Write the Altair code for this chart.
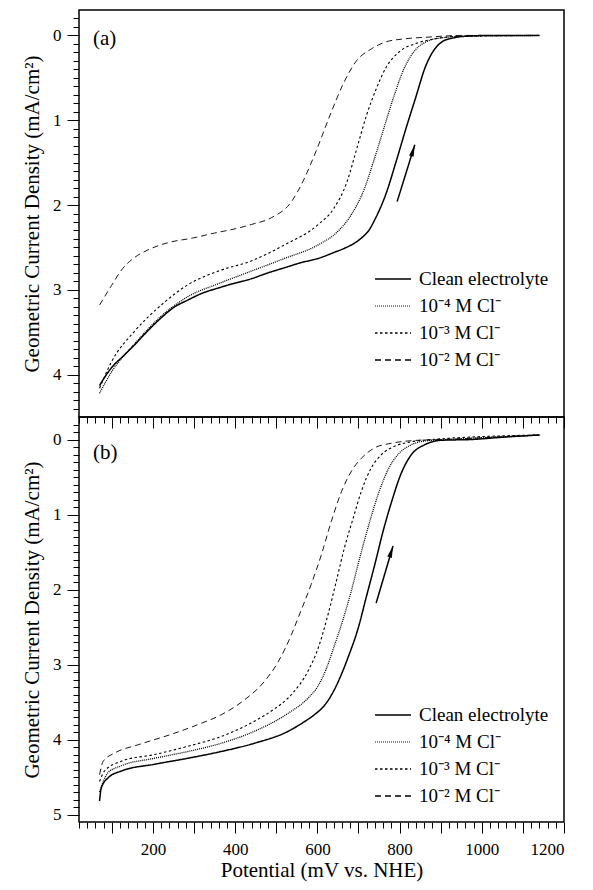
import altair as alt
import pandas as pd

FONT = "Liberation Serif"

NAMES = ["Clean electrolyte", "10⁻⁴ M Cl⁻", "10⁻³ M Cl⁻", "10⁻² M Cl⁻"]

# ---- panel (a) ----
A_CLEAN_X = [70, 80, 99, 130, 155, 190, 220, 250, 285, 320, 358, 400, 439, 480, 520, 560, 602, 640, 666, 690, 707, 725, 742, 766, 792, 816, 840, 862, 884, 905, 930, 960, 1020, 1140]
A_CLEAN_Y = [4.13, 4.05, 3.92, 3.77, 3.65, 3.47, 3.33, 3.21, 3.12, 3.04, 2.98, 2.92, 2.87, 2.80, 2.74, 2.68, 2.63, 2.56, 2.51, 2.45, 2.39, 2.30, 2.15, 1.88, 1.48, 1.09, 0.72, 0.38, 0.17, 0.07, 0.03, 0.01, 0.0, 0.0]
A_E4_X = [70, 99, 155, 220, 285, 358, 439, 520, 602, 650, 683, 715, 737, 762, 786, 810, 835, 867, 900, 960, 1140]
A_E4_Y = [4.22, 3.97, 3.64, 3.31, 3.08, 2.93, 2.78, 2.63, 2.47, 2.31, 2.11, 1.80, 1.48, 1.09, 0.72, 0.40, 0.19, 0.07, 0.03, 0.01, 0.0]
A_E3_X = [70, 99, 155, 220, 285, 358, 439, 520, 602, 640, 671, 695, 719, 744, 768, 800, 843, 886, 940, 1140]
A_E3_Y = [4.16, 3.85, 3.49, 3.18, 2.94, 2.78, 2.66, 2.47, 2.23, 2.04, 1.74, 1.35, 0.95, 0.62, 0.37, 0.19, 0.09, 0.04, 0.01, 0.0]
A_E2_X = [70, 99, 126, 155, 192, 240, 296, 350, 400, 439, 488, 537, 565, 598, 630, 662, 695, 731, 764, 812, 869, 950, 1140]
A_E2_Y = [3.18, 2.95, 2.75, 2.62, 2.52, 2.44, 2.39, 2.33, 2.28, 2.23, 2.15, 1.96, 1.72, 1.35, 0.95, 0.58, 0.30, 0.16, 0.08, 0.04, 0.02, 0.0, 0.0]

# ---- panel (b) ----
B_CLEAN_X = [70, 74, 91, 123, 204, 285, 366, 447, 529, 569, 595, 618, 638, 657, 675, 699, 719, 740, 760, 780, 804, 829, 861, 902, 975, 1050, 1140]
B_CLEAN_Y = [4.82, 4.65, 4.51, 4.42, 4.33, 4.25, 4.16, 4.05, 3.89, 3.76, 3.66, 3.54, 3.37, 3.15, 2.90, 2.52, 2.10, 1.66, 1.22, 0.84, 0.45, 0.20, 0.07, 0.01, 0.0, -0.03, -0.06]
B_E4_X = [70, 91, 123, 204, 285, 366, 447, 529, 577, 600, 620, 640, 659, 681, 703, 725, 748, 772, 796, 825, 861, 920, 1140]
B_E4_Y = [4.70, 4.44, 4.35, 4.25, 4.16, 4.05, 3.89, 3.65, 3.45, 3.30, 3.08, 2.77, 2.46, 2.05, 1.58, 1.14, 0.73, 0.40, 0.20, 0.08, 0.02, 0.0, -0.06]
B_E3_X = [70, 82, 123, 204, 285, 366, 439, 488, 537, 577, 602, 626, 646, 666, 687, 707, 731, 756, 788, 829, 880, 1140]
B_E3_Y = [4.56, 4.42, 4.29, 4.20, 4.09, 3.96, 3.78, 3.62, 3.40, 3.09, 2.78, 2.33, 1.89, 1.44, 1.05, 0.69, 0.38, 0.20, 0.09, 0.03, 0.0, -0.06]
B_E2_X = [70, 79, 107, 164, 245, 310, 366, 423, 472, 504, 537, 553, 585, 610, 634, 659, 683, 707, 740, 780, 845, 900, 1140]
B_E2_Y = [4.47, 4.29, 4.18, 4.07, 3.93, 3.80, 3.67, 3.47, 3.22, 2.97, 2.60, 2.38, 1.93, 1.53, 1.09, 0.69, 0.42, 0.25, 0.11, 0.05, 0.01, 0.0, -0.06]

# arrows: tail (x, y) -> tip (x2, y2)
A_ARROW = [794, 1.96, 837, 1.29]
B_ARROW = [743, 2.18, 784, 1.42]

DASHES = [[1, 0], [1, 1], [2.5, 2.5], [6, 4]]
WIDTHS = [1.5, 0.9, 1.6, 1.6]

X_TITLE = "Potential (mV vs. NHE)"
Y_TITLE = "Geometric Current Density (mA/cm²)"


def panel_df(xs_list, ys_list):
    rows = []
    for name, xs, ys in zip(NAMES, xs_list, ys_list):
        for x, y in zip(xs, ys):
            rows.append({"series": name, "x": x, "y": y})
    return pd.DataFrame(rows)


def make_panel(df, ydom, height, label, label_y, arrow, legend_y0, bottom):
    xscale = alt.Scale(domain=[20, 1200], nice=False, zero=False)
    yscale = alt.Scale(domain=ydom, nice=False, zero=False, reverse=True)

    x_ticks = list(range(20, 1201, 20))
    x_axis_kw = dict(
        orient="bottom", values=x_ticks, domain=False, format="d", labelOverlap=False,
        tickSize={"condition": {"test": "datum.value % 100 === 0", "value": 11}, "value": 6},
        labelPadding=8, titlePadding=2, labelFont=FONT, titleFont=FONT,
        labelFontSize=17, titleFontSize=21,
    )
    if bottom:
        x_axis_kw["labelExpr"] = "datum.value % 200 === 0 ? datum.label : ''"
        x_enc = alt.X("x:Q", scale=xscale, axis=alt.Axis(**x_axis_kw), title=X_TITLE)
    else:
        x_axis_kw["labels"] = False
        x_enc = alt.X("x:Q", scale=xscale, axis=alt.Axis(**x_axis_kw), title=None)

    lo = int(round(ydom[0] * 10)) + 1
    hi = int(round(ydom[1] * 10))
    y_ticks = [round(i / 10, 1) for i in range(lo, hi)]
    is_int = "abs(datum.value - round(datum.value)) < 0.001"
    y_enc = alt.Y(
        "y:Q", scale=yscale, title=Y_TITLE,
        axis=alt.Axis(
            orient="left", values=y_ticks, tickCount=len(y_ticks), tickMinStep=0.05,
            domain=False, labelOverlap=False,
            tickSize={"condition": {"test": is_int, "value": 12}, "value": 6},
            labelExpr=is_int + " ? format(datum.value, 'd') : ''",
            labelPadding=6, titlePadding=10, labelFont=FONT, titleFont=FONT,
            labelFontSize=17, titleFontSize=21,
        ),
    )

    lines = alt.Chart(df).mark_line(interpolate="monotone", color="black").encode(
        x=x_enc,
        y=y_enc,
        strokeDash=alt.StrokeDash("series:N", scale=alt.Scale(domain=NAMES, range=DASHES), legend=None),
        strokeWidth=alt.StrokeWidth("series:N", scale=alt.Scale(domain=NAMES, range=WIDTHS), legend=None),
    )

    ldf = pd.DataFrame({"x": [arrow[0]], "y": [arrow[1]], "x2": [arrow[2]], "y2": [arrow[3]]})
    hdf = pd.DataFrame({"x": [arrow[2]], "y": [arrow[3]]})
    arrow_line = alt.Chart(ldf).mark_rule(color="black", strokeWidth=1.5).encode(
        x=x_enc, y=y_enc, x2="x2:Q", y2="y2:Q",
    )
    arrow_head = alt.Chart(hdf).mark_point(
        shape="M0,0L0.4,2L-0.4,2Z", filled=True, color="black", opacity=1, size=140, angle=17
    ).encode(x=x_enc, y=y_enc)

    legend_layers = []
    for i, name in enumerate(NAMES):
        edf = pd.DataFrame({"label": [name]})
        ly = legend_y0 + 27 * i
        legend_layers.append(
            alt.Chart(edf).mark_rule(color="black", strokeDash=DASHES[i], strokeWidth=WIDTHS[i]).encode(
                x=alt.value(296), x2=alt.value(332), y=alt.value(ly)
            )
        )
        legend_layers.append(
            alt.Chart(edf).mark_text(align="left", baseline="middle", font=FONT, fontSize=19, color="black").encode(
                x=alt.value(340), y=alt.value(ly), text="label:N"
            )
        )

    tag = alt.Chart(pd.DataFrame({"t": [label]})).mark_text(
        align="left", baseline="middle", font=FONT, fontSize=21, color="black"
    ).encode(x=alt.value(14), y=alt.value(label_y), text="t:N")

    return alt.layer(lines, arrow_line, arrow_head, *legend_layers, tag).properties(width=485, height=height)


df_a = panel_df([A_CLEAN_X, A_E4_X, A_E3_X, A_E2_X], [A_CLEAN_Y, A_E4_Y, A_E3_Y, A_E2_Y])
df_b = panel_df([B_CLEAN_X, B_E4_X, B_E3_X, B_E2_X], [B_CLEAN_Y, B_E4_Y, B_E3_Y, B_E2_Y])

top = make_panel(df_a, [-0.3, 4.5], 407, "(a)", 29, A_ARROW, 269, False)
bot = make_panel(df_b, [-0.3, 5.1], 405, "(b)", 36, B_ARROW, 298, True)

chart = alt.vconcat(top, bot, spacing=0, bounds="flush").properties(
    padding={"left": 12, "top": 0, "right": 5, "bottom": 5}
).configure_view(
    stroke="black", strokeWidth=1.5
).configure_axis(
    labelFont=FONT, titleFont=FONT, labelFontSize=17, titleFontSize=21,
    labelColor="black", titleColor="black", tickColor="black", tickWidth=1,
    titleFontWeight="normal", grid=False
)

chart.save("out.html", embed_options={"renderer": "svg", "actions": False})
